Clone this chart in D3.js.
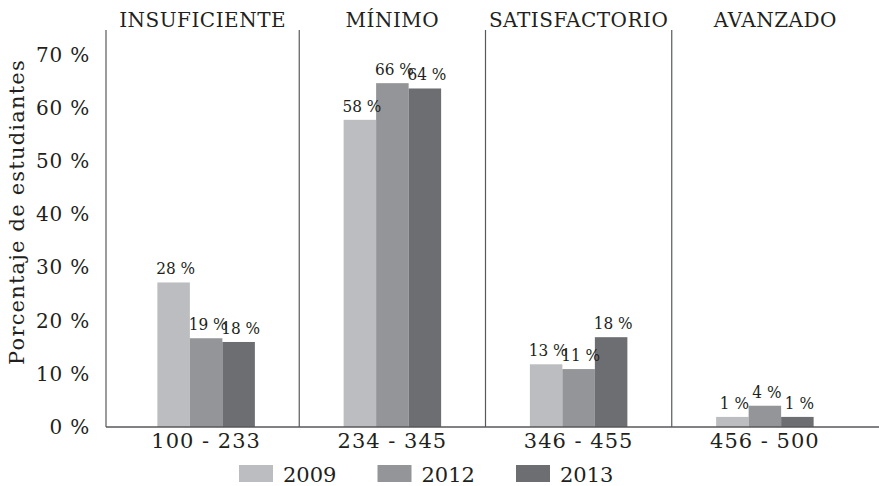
<!DOCTYPE html>
<html>
<head>
<meta charset="utf-8">
<script src="https://cdn.jsdelivr.net/npm/d3@7"></script>
<style>
  html, body { margin: 0; padding: 0; background: #fff; }
  svg text { font-family: "DejaVu Serif", serif; fill: #231f20; }
  svg text.bar-label { font-family: "DejaVu Serif Condensed", "DejaVu Serif", serif; font-stretch: condensed; }
</style>
</head>
<body>
<svg id="chart" width="879" height="486"></svg>
<script>
const categories = ["100 - 233", "234 - 345", "346 - 455", "456 - 500"];
const levels = ["INSUFICIENTE", "MÍNIMO", "SATISFACTORIO", "AVANZADO"];
const years = ["2009", "2012", "2013"];
const values2009 = [27.2, 57.8, 11.8, 1.9];
const values2012 = [16.7, 64.7, 10.9, 4.0];
const values2013 = [16.0, 63.7, 16.9, 1.9];
const labels2009 = ["28 %", "58 %", "13 %", "1 %"];
const labels2012 = ["19 %", "66 %", "11 %", "4 %"];
const labels2013 = ["18 %", "64 %", "18 %", "1 %"];
const yTicks = [0, 10, 20, 30, 40, 50, 60, 70];
const colors = ["#bcbdc0", "#939598", "#6d6e71"];

const seriesValues = [values2009, values2012, values2013];
const seriesLabels = [labels2009, labels2012, labels2013];

const W = 879;
const svg = d3.select("#chart");
const mLeft = 106, mBottom = 427, mTop = 30;

const x = d3.scaleBand().domain(categories).range([113, 858]).paddingInner(0).paddingOuter(0);
const x1 = d3.scaleBand().domain(years).range([0, 97.5]);
const y = d3.scaleLinear().domain([0, 70]).range([mBottom, 55]);
const color = d3.scaleOrdinal().domain(years).range(colors);

const data = [];
categories.forEach((c, i) => {
  years.forEach((yr, j) => {
    data.push({ cat: c, year: yr, value: seriesValues[j][i], label: seriesLabels[j][i] });
  });
});

const offset = (x.bandwidth() - 97.5) / 2;

svg.append("g").selectAll("rect").data(data).join("rect")
  .attr("x", d => x(d.cat) + offset + x1(d.year))
  .attr("y", d => y(d.value))
  .attr("width", x1.bandwidth())
  .attr("height", d => y(0) - y(d.value))
  .attr("fill", d => color(d.year));

svg.append("g").selectAll("text").data(data).join("text")
  .attr("class", "bar-label")
  .attr("x", d => x(d.cat) + offset + x1(d.year) + x1.bandwidth() / 2 + 2)
  .attr("y", d => y(d.value) - 8)
  .attr("text-anchor", "middle")
  .attr("font-size", 17)
  .text(d => d.label);

const dividers = categories.slice(1).map(c => x(c));
svg.append("g").selectAll("line").data(dividers).join("line")
  .attr("x1", d => d).attr("x2", d => d)
  .attr("y1", mTop).attr("y2", mBottom)
  .attr("stroke", "#58595b").attr("stroke-width", 1.2);

svg.append("line").attr("x1", mLeft).attr("x2", mLeft).attr("y1", mTop).attr("y2", mBottom)
  .attr("stroke", "#58595b").attr("stroke-width", 1.2);
svg.append("line").attr("x1", mLeft).attr("x2", W).attr("y1", mBottom).attr("y2", mBottom)
  .attr("stroke", "#58595b").attr("stroke-width", 1.5);

const yAxis = d3.axisLeft(y).tickValues(yTicks).tickSize(0).tickPadding(16).tickFormat(d => d + " %");
const ya = svg.append("g").attr("transform", `translate(${mLeft},0)`).call(yAxis);
ya.select(".domain").remove();
ya.selectAll("text").attr("font-size", 20).style("font-family", "DejaVu Serif")
  .style("letter-spacing", "0.8px").attr("fill", "#231f20");

const xAxis = d3.axisBottom(x).tickSize(0).tickPadding(6);
const xa = svg.append("g").attr("transform", `translate(0,${mBottom})`).call(xAxis);
xa.select(".domain").remove();
xa.selectAll("text").attr("font-size", 21).style("font-family", "DejaVu Serif")
  .style("letter-spacing", "1px").attr("fill", "#231f20");

const edges = [mLeft, ...dividers, W];
svg.append("g").selectAll("text").data(levels).join("text")
  .attr("x", (d, i) => (edges[i] + edges[i + 1]) / 2)
  .attr("y", 27)
  .attr("text-anchor", "middle")
  .attr("font-size", 20)
  .style("letter-spacing", "0.5px")
  .text(d => d);

svg.append("text")
  .attr("transform", "translate(24,212) rotate(-90)")
  .attr("text-anchor", "middle")
  .attr("font-size", 21)
  .style("letter-spacing", "1.2px")
  .text("Porcentaje de estudiantes");

const legend = svg.append("g").attr("transform", "translate(239,465)");
const lx = d3.scalePoint().domain(years).range([0, 277]);
const li = legend.selectAll("g").data(years).join("g")
  .attr("transform", d => `translate(${lx(d)},0)`);
li.append("rect").attr("width", 34).attr("height", 17).attr("fill", d => color(d));
li.append("text").attr("x", 44).attr("y", 17).attr("font-size", 21).text(d => d);
</script>
</body>
</html>
